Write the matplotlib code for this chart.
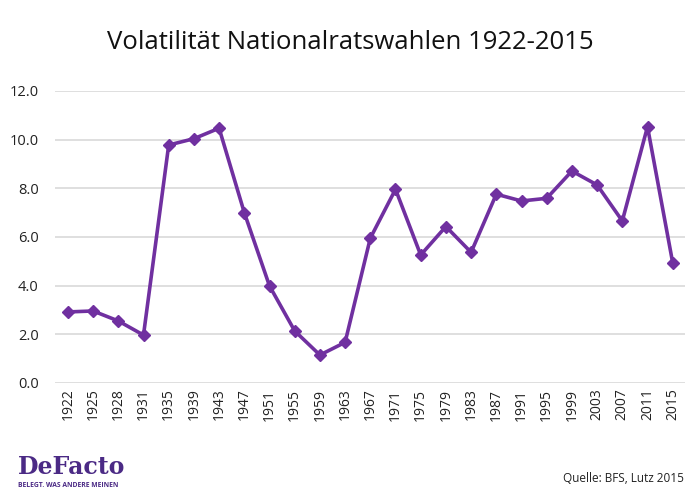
import numpy as np
import matplotlib
matplotlib.use("Agg")
import matplotlib.pyplot as plt
from matplotlib.ticker import FormatStrFormatter

years = ["1922", "1925", "1928", "1931", "1935", "1939", "1943", "1947", "1951",
         "1955", "1959", "1963", "1967", "1971", "1975", "1979", "1983", "1987",
         "1991", "1995", "1999", "2003", "2007", "2011", "2015"]
volatility = [2.92, 2.96, 2.55, 1.97, 9.78, 10.04, 10.47, 7.0, 3.99,
              2.14, 1.15, 1.67, 5.95, 7.96, 5.26, 6.43, 5.37, 7.76,
              7.48, 7.59, 8.71, 8.14, 6.66, 10.53, 4.94]

purple = "#7030a0"
plt.rcParams["font.family"] = ["Open Sans", "DejaVu Sans"]

fig = plt.figure(figsize=(7, 5), dpi=100)
ax = fig.add_axes([0.079, 0.234, 0.9, 0.584])

x = np.arange(len(years))
ax.plot(x, volatility, color=purple, linewidth=2.6, marker="D", markersize=6,
        zorder=3)

ax.set_xlim(-0.5, len(years) - 0.5)
ax.set_ylim(0, 12)
ax.set_yticks(np.arange(0, 13, 2))
ax.yaxis.set_major_formatter(FormatStrFormatter("%.1f"))
ax.set_xticks(x)
ax.set_xticklabels(years, rotation=90, fontsize=10, color="#222222")
ax.tick_params(axis="y", labelsize=10.5, colors="#222222", length=0, pad=12)
ax.tick_params(axis="x", length=0, pad=4)
ax.grid(axis="y", color="#d9d9d9", linewidth=1.2)
ax.set_axisbelow(True)
for s in ax.spines.values():
    s.set_visible(False)

fig.suptitle("Volatilität Nationalratswahlen 1922-2015", y=0.94, fontsize=18.5,
             color="#111111")

# logo
fig.text(0.025, 0.052, "DeFacto", fontsize=17, color="#4b2a85",
         family="DejaVu Serif", fontweight="bold")
fig.text(0.026, 0.026, "BELEGT. WAS ANDERE MEINEN", fontsize=4.9,
         color="#4b2a85", fontweight="bold")
fig.text(0.977, 0.035, "Quelle: BFS, Lutz 2015", fontsize=8.5, ha="right",
         color="#222222")

fig.savefig("out.png", dpi=100)
